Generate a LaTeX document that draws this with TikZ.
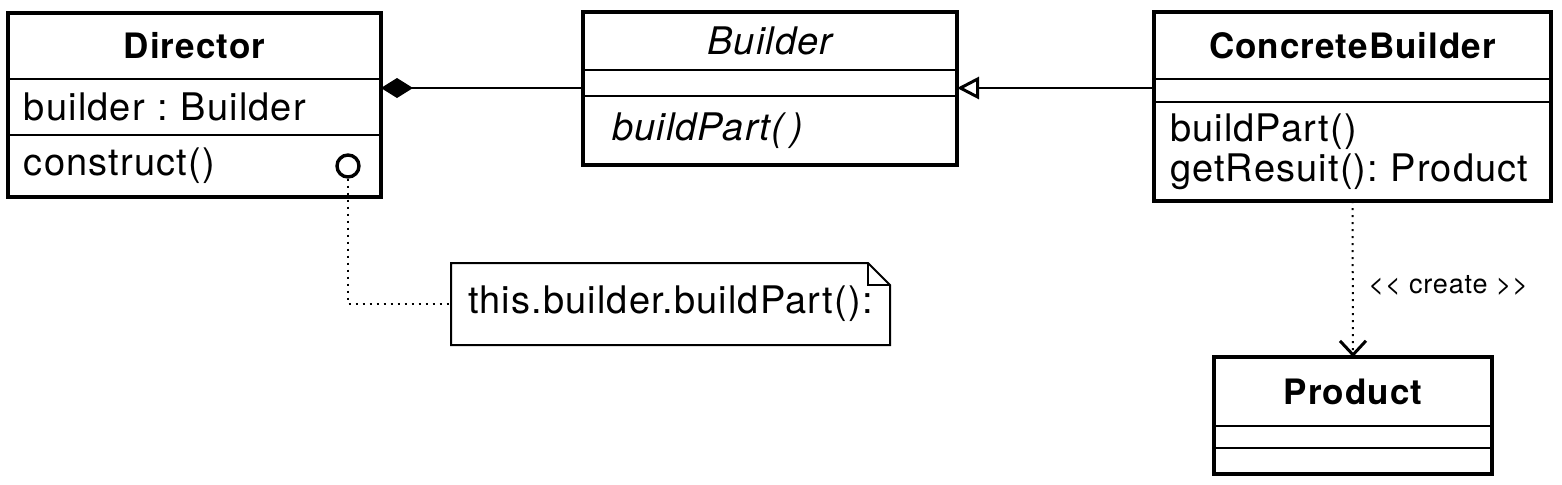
\documentclass[tikz,border=0pt]{standalone}
\usepackage{fontspec}
\setmainfont{TeX Gyre Heros}[LetterSpace=3]
\frenchspacing
\usetikzlibrary{arrows.meta,positioning}
\begin{document}
\begin{tikzpicture}[x=0.5pt,y=-0.5pt,
  part/.style={draw,line width=1.4pt,inner sep=0pt,outer sep=0pt,font=\fontsize{19}{20}\selectfont},
  members/.style={part,align=left,inner xsep=#1},
  outline/.style={draw=black,line width=2.25pt},
  dots/.style={line width=1pt,dash pattern=on 1pt off 2.5pt}]
\useasboundingbox (0,0) rectangle (1562,484);
\node[part,minimum width=186.5pt,minimum height=33pt,font=\fontsize{17.5}{20}\selectfont\bfseries] (dir-h) at (194.5,46) {Director};
\node[members=8pt,below=0pt of dir-h,text width=170.5pt,minimum height=28pt] (dir-a) {builder : Builder};
\node[members=8pt,below=0pt of dir-a,text width=170.5pt,minimum height=31pt] (dir-m) {construct()};
\draw[outline] (dir-h.north west) rectangle (dir-m.south east);
\node[circle,draw,line width=1.7pt,minimum size=11pt,inner sep=0pt] (hook) at (348,166) {};
\node[part,minimum width=187pt,minimum height=29pt,font=\fontsize{19}{20}\selectfont\itshape] (bld-h) at (770,41) {Builder};
\node[part,below=0pt of bld-h,minimum width=187pt,minimum height=13pt] (bld-e) {};
\node[members=14.5pt,below=0pt of bld-e,text width=158pt,minimum height=34.5pt,font=\fontsize{19}{20}\selectfont\itshape] (bld-m) {buildPart(\,)};
\draw[outline] (bld-h.north west) rectangle (bld-m.south east);
\node[part,minimum width=198.5pt,minimum height=33.5pt,font=\fontsize{17.5}{20}\selectfont\bfseries] (cb-h) at (1352.5,45.5) {ConcreteBuilder};
\node[part,below=0pt of cb-h,minimum width=198.5pt,minimum height=11.5pt] (cb-e) {};
\node[members=8pt,below=0pt of cb-e,text width=182.5pt,minimum height=49.5pt] (cb-m) {buildPart()\\getResuit(): Product};
\draw[outline] (cb-h.north west) rectangle (cb-m.south east);
\node[part,minimum width=139pt,minimum height=34.5pt,font=\fontsize{17.5}{20}\selectfont\bfseries] (prd-h) at (1353,391.5) {Product};
\node[part,below=0pt of prd-h,minimum width=139pt,minimum height=11pt] (prd-e) {};
\node[part,below=0pt of prd-e,minimum width=139pt,minimum height=13pt] (prd-m) {};
\draw[outline] (prd-h.north west) rectangle (prd-m.south east);
\node[align=left,inner xsep=8.5pt,inner ysep=0pt,outer sep=0pt,text width=202.5pt,minimum height=41pt,font=\fontsize{19}{20}\selectfont] (note) at (670.5,304) {this.builder.buildPart():};
\draw[line width=1pt] (note.south west) -- (note.north west) -- ([xshift=-11pt]note.north east) -- ([yshift=-11pt]note.north east) -- (note.south east) -- cycle;
\draw[line width=1pt] ([xshift=-11pt]note.north east) |- ([yshift=-11pt]note.north east);
\draw[dots] (hook.south) |- (note.west);
\draw[line width=1pt,-{Diamond[length=16pt,width=10pt]}] (bld-e.west |- 0,88) -- (dir-a.east |- 0,88);
\draw[line width=1pt,-{Triangle[open,length=11pt,width=11pt,line width=1.5pt]}] (cb-e.west |- 0,88) -- (bld-e.east |- 0,88);
\draw[dots,-{Straight Barb[length=7pt,width=13pt,line width=1.5pt]}] (cb-m.south) -- (prd-h.north) node[pos=0.54,right=4pt,font=\fontsize{13.5}{14}\selectfont] {<{}< create >{}>};
\end{tikzpicture}
\end{document}
